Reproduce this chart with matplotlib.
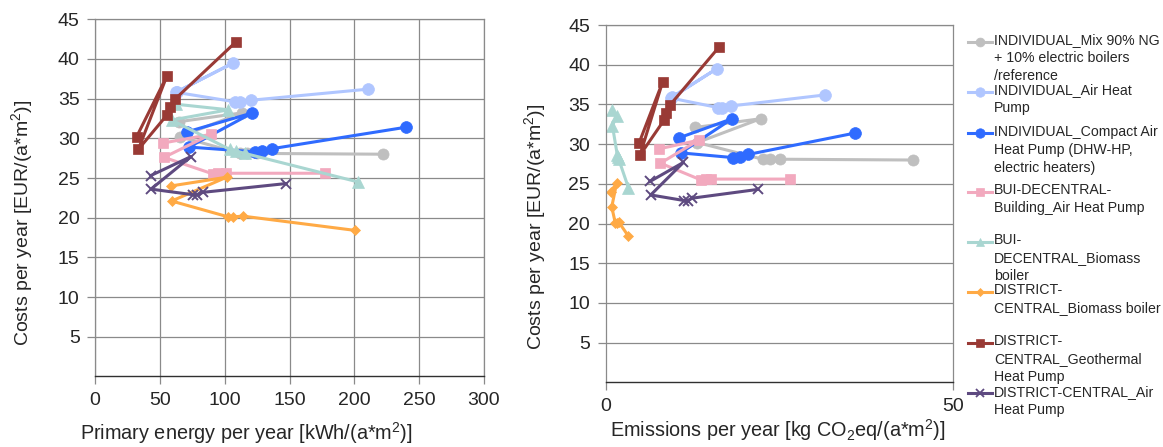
import matplotlib
matplotlib.use("Agg")
import matplotlib.pyplot as plt
from matplotlib.lines import Line2D

plt.rcParams['font.family'] = ['Liberation Sans', 'DejaVu Sans']
plt.rcParams['mathtext.fontset'] = 'custom'
plt.rcParams['mathtext.rm'] = 'Liberation Sans'
plt.rcParams['mathtext.it'] = 'Liberation Sans'

# ---- data (points in drawing order) ----
series_names = [
    "INDIVIDUAL_Mix 90% NG\n+ 10% electric boilers\n/reference",
    "INDIVIDUAL_Air Heat\nPump",
    "INDIVIDUAL_Compact Air\nHeat Pump (DHW-HP,\nelectric heaters)",
    "BUI-DECENTRAL-\nBuilding_Air Heat Pump",
    "BUI-\nDECENTRAL_Biomass\nboiler",
    "DISTRICT-\nCENTRAL_Biomass boiler",
    "DISTRICT-\nCENTRAL_Geothermal\nHeat Pump",
    "DISTRICT-CENTRAL_Air\nHeat Pump",
]

pe_ref = [65, 113, 65.5, 112, 117, 125, 222]
em_ref = [12.9, 22.3, 13.2, 22.6, 23.6, 25.1, 44.2]
cost_ref = [32.1, 33.2, 30.2, 28.1, 28.1, 28.1, 28.0]

pe_ahp = [63.5, 106.6, 62.5, 108, 111.8, 120.3, 210.7]
em_ahp = [9.5, 16.0, 9.4, 16.2, 16.8, 18.0, 31.6]
cost_ahp = [35.9, 39.5, 35.8, 34.6, 34.6, 34.8, 36.2]

pe_cahp = [70.7, 121.3, 72.5, 123.4, 128.5, 136.7, 239.8]
em_cahp = [10.6, 18.2, 10.8, 18.4, 19.3, 20.5, 35.9]
cost_cahp = [30.8, 33.2, 28.9, 28.3, 28.4, 28.7, 31.4]

pe_bahp = [52.2, 89.4, 53.2, 91.2, 95, 101, 177.3]
em_bahp = [7.7, 13.4, 7.9, 13.7, 14.4, 15.1, 26.5]
cost_bahp = [29.4, 30.5, 27.6, 25.5, 25.6, 25.6, 25.6]

pe_bbio = [62.4, 102.8, 59.1, 104, 109, 115.6, 203]
em_bbio = [0.9, 1.6, 1.0, 1.7, 1.8, 1.9, 3.3]
cost_bbio = [34.3, 33.6, 32.3, 28.6, 28.4, 28.1, 24.5]

pe_dbio = [58.6, 101.5, 59.1, 102.8, 106.7, 113.9, 200.5]
em_dbio = [0.75, 1.6, 0.9, 1.4, 1.6, 1.9, 3.3]
cost_dbio = [24.0, 25.1, 22.1, 20.1, 20.1, 20.2, 18.4]

pe_geo = [32.1, 55.3, 33.4, 55.8, 57.8, 61.5, 109]
em_geo = [4.85, 8.2, 4.95, 8.4, 8.7, 9.25, 16.3]
cost_geo = [30.2, 37.8, 28.6, 33.0, 33.9, 34.9, 42.2]

pe_dahp = [42.9, 74, 43.2, 75.3, 78.4, 83.5, 147.3]
em_dahp = [6.4, 11.2, 6.5, 11.3, 11.8, 12.5, 21.9]
cost_dahp = [25.3, 27.7, 23.6, 22.9, 22.9, 23.2, 24.3]

pe_all = [pe_ref, pe_ahp, pe_cahp, pe_bahp, pe_bbio, pe_dbio, pe_geo, pe_dahp]
em_all = [em_ref, em_ahp, em_cahp, em_bahp, em_bbio, em_dbio, em_geo, em_dahp]
cost_all = [cost_ref, cost_ahp, cost_cahp, cost_bahp, cost_bbio, cost_dbio, cost_geo, cost_dahp]

colors = ['#BFBFBF', '#B0C6FF', '#2F6BFF', '#F2A9BE', '#A9D6D1', '#FFAA45', '#993A35', '#5E4A80']
markers = ['o', 'o', 'o', 's', '^', 'D', 's', 'x']
msizes = [8, 8.5, 8.5, 7.5, 8, 5.5, 7.5, 7]

yticks = [5, 10, 15, 20, 25, 30, 35, 40, 45]
xticks_pe = [0, 50, 100, 150, 200, 250, 300]
xticks_em = [0, 50]

W, H = 1163, 447
fig = plt.figure(figsize=(W / 100, H / 100), dpi=100)

ax1 = fig.add_axes([95 / W, (H - 376.4) / H, 389 / W, 357.1 / H])
ax2 = fig.add_axes([605.5 / W, (H - 382.4) / H, 347.8 / W, 357.4 / H])

grid_c = '#8a8a8a'
tick_c = '#262626'
for ax, xs_all, xt, xlim in [(ax1, pe_all, xticks_pe, (0, 300)), (ax2, em_all, xticks_em, (0, 50))]:
    for xs, ys, c, m, ms in zip(xs_all, cost_all, colors, markers, msizes):
        ax.plot(xs, ys, color=c, marker=m, markersize=ms, linewidth=2.2,
                markeredgewidth=1.4 if m == 'x' else 0.5, markeredgecolor=c,
                solid_joinstyle='round', clip_on=False)
    ax.set_xlim(*xlim)
    ax.set_ylim(0, 45)
    ax.set_yticks(yticks)
    ax.set_xticks(xt)
    ax.yaxis.grid(True, color=grid_c, linewidth=0.9)
    ax.set_axisbelow(True)
    ax.tick_params(axis='both', labelsize=14, colors=grid_c, labelcolor=tick_c, length=6, width=0.9, pad=5)
    for s in ['left', 'top', 'right']:
        ax.spines[s].set_color(grid_c)
        ax.spines[s].set_linewidth(0.9)
    ax.spines['bottom'].set_color('#303030')
    ax.spines['bottom'].set_linewidth(1.0)
    ax.set_ylabel('Costs per year [EUR/(a*m$^2$)]', fontsize=14, color=tick_c)

ax1.xaxis.grid(True, color=grid_c, linewidth=0.9)
ax1.set_xlabel('Primary energy per year [kWh/(a*m$^2$)]', fontsize=14.3, color=tick_c)
ax2.set_xlabel('Emissions per year [kg CO$_2$eq/(a*m$^2$)]', fontsize=14.3, color=tick_c)

ax1.yaxis.set_label_coords(-0.155, 0.43)
ax1.xaxis.set_label_coords(0.39, -0.122)
ax2.yaxis.set_label_coords(-0.166, 0.435)
ax2.xaxis.set_label_coords(0.496, -0.097)

# ---- legend (manual layout in pixel coordinates) ----
lax = fig.add_axes([0, 0, 1, 1])
lax.set_xlim(0, W)
lax.set_ylim(H, 0)
lax.axis('off')
first_line_y = [41.7, 91.7, 133.3, 191.7, 241.7, 291.7, 342.7, 393.3]
for name, c, m, ms, yy in zip(series_names, colors, markers, msizes, first_line_y):
    lax.add_line(Line2D([968, 992], [yy, yy], color=c, linewidth=2.2))
    lax.add_line(Line2D([980], [yy], color=c, marker=m, markersize=ms * 0.8,
                        markeredgewidth=1.3 if m == 'x' else 0.5, markeredgecolor=c))
    lax.text(994, yy - 8.5, name, fontsize=10.2, color=tick_c, va='top',
             ha='left', linespacing=1.36)

fig.savefig('out.png', dpi=100)
